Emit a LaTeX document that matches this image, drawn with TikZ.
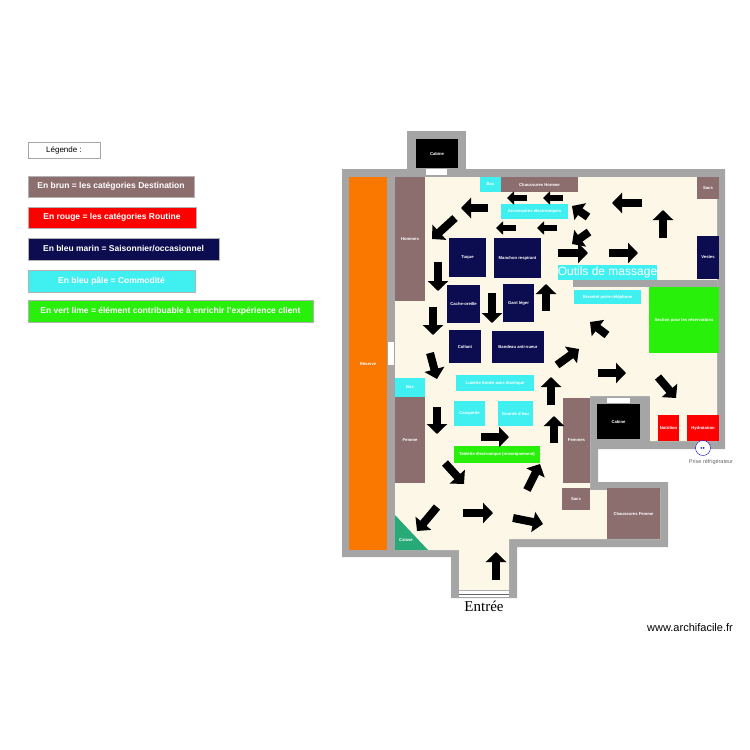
\documentclass[tikz,border=0pt]{standalone}
\usepackage{fontspec}
\setmainfont{Liberation Serif}
\setsansfont{Liberation Sans}
\newfontfamily\dejavu{DejaVu Sans}
\usetikzlibrary{arrows.meta}
\definecolor{brn}{RGB}{141,110,110}
\definecolor{nvy}{RGB}{12,12,80}
\definecolor{cyn}{RGB}{64,240,240}
\definecolor{lim}{RGB}{40,240,10}
\definecolor{crm}{RGB}{252,247,230}
\definecolor{wal}{RGB}{165,165,165}
\definecolor{org}{RGB}{250,120,0}
\definecolor{cai}{RGB}{40,170,120}
\tikzset{
 item/.style={inner sep=0pt,text=white,font=\fontsize{4.2}{5}\selectfont\sffamily\bfseries,align=center},
 leg/.style={inner sep=0pt,text=white,font=\fontsize{8.5}{10}\selectfont\sffamily\bfseries,draw=gray!60,line width=0.8pt},
 flow/.style={line width=8pt,-{Triangle[length=10pt,width=20pt]}},
 smallflow/.style={line width=6pt,-{Triangle[length=7pt,width=13pt]}}
}
\newcommand\zone[8][item]{\node[#1,fill=#7,minimum width={(#4-#2)*1pt},minimum height={(#5-#3)*1pt}] (#6) at ({(#2+#4)/2},{(#3+#5)/2}) {#8};}
\begin{document}
\begin{tikzpicture}[x=1pt,y=-1pt]
\useasboundingbox (0,0) rectangle (750,750);
% legend
\node[draw=gray!70,line width=0.8pt,minimum width=72pt,minimum height=16pt,inner sep=0pt,font=\fontsize{8}{9}\selectfont\sffamily] (lg) at (64,150) {Légende :};
\zone[leg]{28}{176}{194}{197}{l1}{brn}{En brun = les catégories Destination}
\zone[leg]{28}{207}{196}{228}{l2}{red}{En rouge = les catégories Routine}
\zone[leg]{28}{238}{219}{260}{l3}{nvy}{En bleu marin = Saisonnier/occasionnel}
\zone[leg]{28}{270}{195}{292}{l4}{cyn}{En bleu pâle = Commodité}
\zone[leg]{28}{300}{313}{322}{l5}{lim}{En vert lime = élément contribuable à enrichir l'expérience client}
% walls and floor
\fill[wal] (407,131) rectangle (466,170);
\fill[wal] (342,169) -- (725,169) -- (725,449) -- (598,449) -- (598,482) -- (668,482) -- (668,547) -- (517,547) -- (517,598) -- (451,598) -- (451,557) -- (342,557) -- cycle;
\fill[crm] (395,177) -- (717,177) -- (717,441) -- (650,441) -- (650,396) -- (590,396) -- (590,490) -- (660,490) -- (660,539) -- (509,539) -- (509,590) -- (459,590) -- (459,550) -- (395,550) -- cycle;
\fill[wal] (573,280) rectangle (717,287);
\fill[white] (426,169) rectangle (447,175);
\fill[white] (388,342) rectangle (394,365);
\fill[white] (607,398) rectangle (630,403);
\fill[white] (459,591) rectangle (509,597);
\draw[wal!60!black,line width=0.4pt] (459,594) -- (509,594);
\zone{416}{139}{458}{168}{cab1}{black}{Cabine}
\zone{349}{177}{387}{550}{res}{org}{Réserve}
\zone{395}{177}{425}{301}{hom}{brn}{Hommes}
\zone{480}{177}{501}{192}{bas1}{cyn}{Bas}
\zone{501}{177}{578}{192}{chh}{brn}{Chaussures Homme}
\zone{697}{177}{719}{199}{sac1}{brn}{Sacs}
\zone{501}{204}{568}{219}{acc}{cyn}{Accessoires électroniques}
\zone{449}{238}{486}{277}{tuq}{nvy}{Tuque}
\zone{494}{238}{541}{278}{man}{nvy}{Manchon respirant}
\zone{447}{285}{480}{323}{cac}{nvy}{Cache-oreille}
\zone{503}{284}{534}{322}{gan}{nvy}{Gant léger}
\zone{449}{330}{481}{363}{col}{nvy}{Collant}
\zone{492}{331}{544}{363}{ban}{nvy}{Bandeau anti-sueur}
\zone{697}{236}{719}{279}{ves}{nvy}{Vestes}
\zone[item,font=\fontsize{12}{13}\selectfont\sffamily]{575}{265}{640}{280}{out}{cyn}{Outils de massage}
\zone{574}{290}{641}{304}{bra}{cyn}{Bracelet porte-téléphone}
\zone{649}{287}{719}{353}{sec}{lim}{Section pour les réservations}
\zone{395}{378}{425}{397}{bas2}{cyn}{Bas}
\zone{395}{397}{425}{483}{fem}{brn}{Femme}
\zone{456}{375}{534}{391}{lun}{cyn}{Lunette fumée avec élastique}
\zone{454}{401}{485}{426}{cas}{cyn}{Casquette}
\zone{498}{401}{533}{426}{gou}{cyn}{Gourde d'eau}
\zone{454}{446}{540}{463}{tab}{lim}{Tablette électronique (renseignement)}
\zone{563}{398}{590}{483}{fes}{brn}{Femmes}
\zone{562}{488}{590}{510}{sac2}{brn}{Sacs}
\zone{607}{488}{660}{539}{chf}{brn}{Chaussures Femme}
\zone{597}{404}{640}{439}{cab2}{black}{Cabine}
\zone{658}{415}{679}{441}{nut}{red}{Nutrition}
\zone{687}{415}{719}{441}{hyd}{red}{Hydratation}
\fill[cai] (395,515) -- (395,550) -- (428,550) -- cycle;
\node[item] (cai) at (406,540) {Caisse};
\node[draw=blue!80!black,fill=white,circle,minimum size=15pt,inner sep=0pt,font=\fontsize{4}{4}\selectfont\dejavu\color{blue!60!black}] (pr) at (703,448) {▸▸};
\node[font=\fontsize{5.5}{6}\selectfont\sffamily,text=gray!80!black] (prt) at (711,462) {Prise réfrigérateur};
\node[font=\fontsize{15}{16}\selectfont] (ent) at (484,606) {Entrée};
\node[font=\fontsize{11}{12}\selectfont\sffamily] (www) at (690,628) {www.archifacile.fr};
% flow arrows
\foreach \a/\b/\c/\d in {563/198/543/198, 527/198/507/198, 516/228/496/228, 557/228/537/228}
 \draw[smallflow] (\a,\b) -- (\c,\d);
\foreach \a/\b/\c/\d in {488/208/461/208, 455/218/432/239,
 588/217/572/206, 589/232/572/244, 642/203/612/203,
 663/238/663/210, 558/253/588/253, 609/253/638/253, 438/262/438/291, 433/307/433/335,
 492/293/492/323, 546/311/546/284, 607/335/590/322, 430/353/437/379, 557/365/579/349,
 598/373/626/373, 658/377/676/398, 551/405/551/377, 554/443/554/416, 437/407/437/434,
 481/437/509/437, 445/463/464/484, 527/490/540/464, 437/507/417/531, 463/513/493/513,
 513/518/543/524, 496/580/496/552}
 \draw[flow] (\a,\b) -- (\c,\d);
\end{tikzpicture}
\end{document}
